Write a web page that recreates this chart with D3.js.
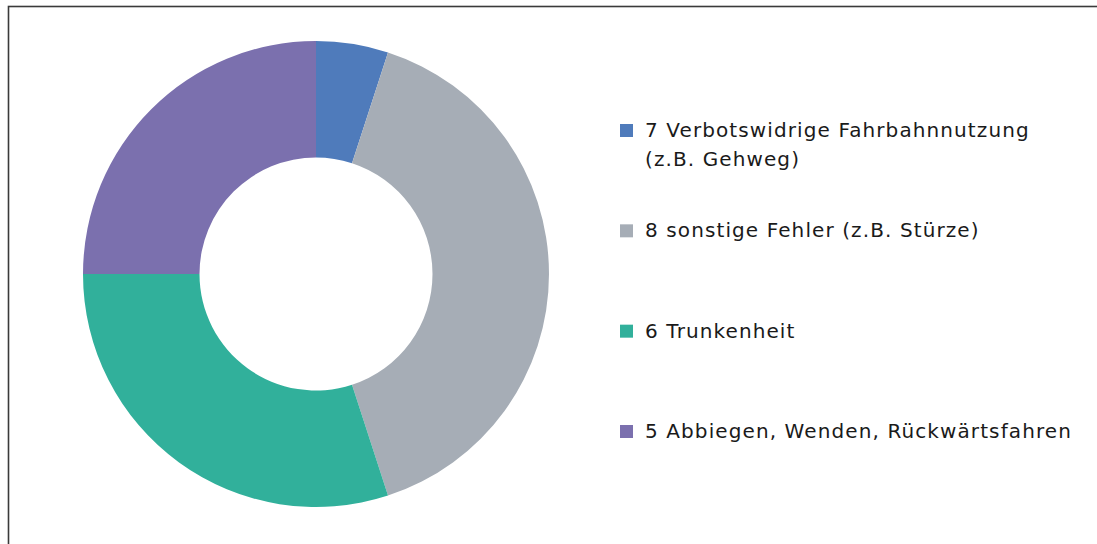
<!DOCTYPE html>
<html>
<head>
<meta charset="utf-8">
<script src="https://cdn.jsdelivr.net/npm/d3@7"></script>
<style>
  body { margin: 0; background: white; }
  #graf { width: 1097px; height: 544px; }
</style>
</head>
<body>
<div id="graf"></div>
<script>
// Daten (Anteile in %)
const kategorien = [
  "7 Verbotswidrige Fahrbahnnutzung",
  "8 sonstige Fehler (z.B. Stürze)",
  "6 Trunkenheit",
  "5 Abbiegen, Wenden, Rückwärtsfahren",
]
const zweiteZeile = ["(z.B. Gehweg)", "", "", ""]
const werte = [5, 40, 30, 25]
const farben = ["#4f7bbb", "#a6adb6", "#31b09b", "#7b70ae"]

const anchoTotal = 1097
const altoTotal = 544

const graf = d3.select("#graf")

const svg = graf
  .append("svg")
  .attr("width", anchoTotal)
  .attr("height", altoTotal)

// Rahmen (rechts und unten abgeschnitten)
svg
  .append("rect")
  .attr("x", 8.5)
  .attr("y", 6.5)
  .attr("width", anchoTotal + 20)
  .attr("height", altoTotal + 20)
  .attr("fill", "none")
  .attr("stroke", "#3a3a3a")
  .attr("stroke-width", 1.6)

const cx = 316
const cy = 274
const radio = 233

const color = d3.scaleOrdinal().domain(kategorien).range(farben)

const pie = d3.pie().sort(null).value((d) => d.valor)
const arc = d3.arc().innerRadius(radio * 0.5).outerRadius(radio)

const data = kategorien.map((k, i) => ({ nombre: k, valor: werte[i] }))

const g = svg
  .append("g")
  .attr("transform", `translate(${cx}, ${cy})`)

g.selectAll("path")
  .data(pie(data))
  .enter()
  .append("path")
  .attr("d", arc)
  .attr("fill", (d) => color(d.data.nombre))

// Legende
const legendY = d3.scalePoint().domain(kategorien).range([137, 438])

const leyenda = svg
  .append("g")
  .selectAll("g")
  .data(kategorien)
  .enter()
  .append("g")
  .attr("transform", (d) => `translate(620, ${legendY(d)})`)

leyenda
  .append("rect")
  .attr("x", 0)
  .attr("y", -13)
  .attr("width", 13)
  .attr("height", 13)
  .attr("fill", (d) => color(d))

const texto = leyenda
  .append("text")
  .attr("x", 25)
  .attr("y", 0)
  .attr("font-family", "'DejaVu Sans', sans-serif")
  .attr("font-size", 20)
  .attr("letter-spacing", 1.1)
  .attr("fill", "#1a1a1a")

texto.append("tspan").attr("x", 25).attr("dy", 0).text((d) => d)
texto
  .append("tspan")
  .attr("x", 25)
  .attr("dy", 29)
  .text((d, i) => zweiteZeile[i])
</script>
</body>
</html>
